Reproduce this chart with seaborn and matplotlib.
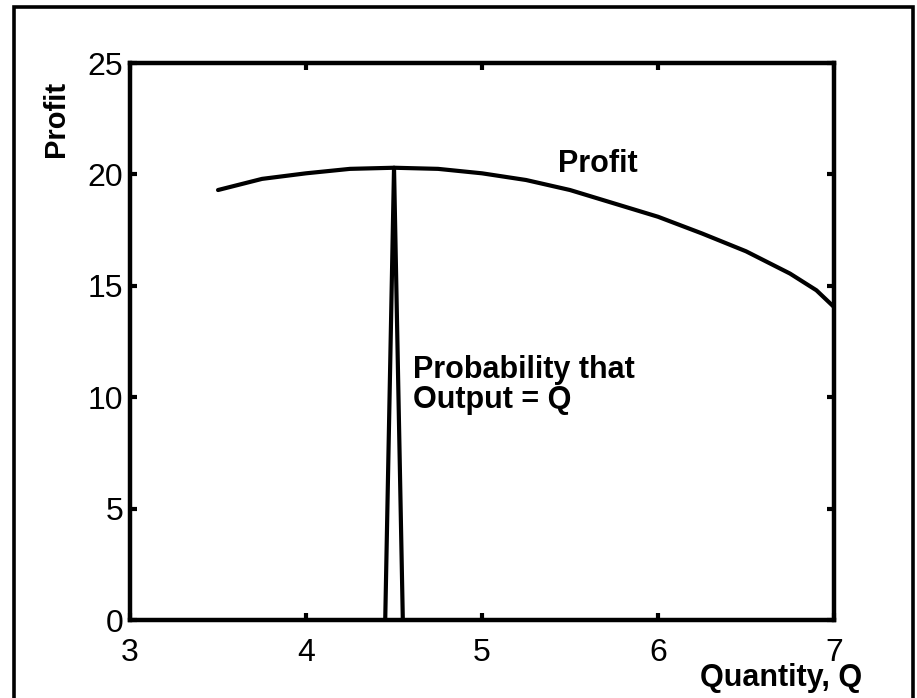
import matplotlib
matplotlib.use("Agg")
import matplotlib.pyplot as plt
from matplotlib.patches import Rectangle
import seaborn as sns
import pandas as pd

# Expected profit as a function of planned quantity
quantity = [3.5, 3.75, 4.0, 4.25, 4.5, 4.75, 5.0, 5.25, 5.5, 5.75, 6.0, 6.25, 6.5, 6.75, 6.9, 7.0]
profit = [19.3, 19.8, 20.05, 20.25, 20.3, 20.25, 20.05, 19.75, 19.3, 18.7, 18.1, 17.35, 16.55, 15.55, 14.8, 14.05]

# Probability mass concentrated at Q = 4.5 (scaled to profit units)
spike_q = [4.45, 4.5, 4.55]
spike_height = [0.0, 20.3, 0.0]

x_ticks = [3, 4, 5, 6, 7]
y_ticks = [0, 5, 10, 15, 20, 25]

sns.set_style("ticks")
plt.rcParams["font.family"] = ["Liberation Sans", "DejaVu Sans"]
plt.rcParams["text.color"] = "black"
plt.rcParams["axes.labelcolor"] = "black"
plt.rcParams["xtick.color"] = "black"
plt.rcParams["ytick.color"] = "black"

fig = plt.figure(figsize=(9.17, 6.98), dpi=100)
ax = fig.add_axes([0.1418, 0.1117, 0.7677, 0.798])

curve = pd.DataFrame({"Q": quantity, "Profit": profit})
spike = pd.DataFrame({"Q": spike_q, "P": spike_height})

sns.lineplot(data=curve, x="Q", y="Profit", ax=ax, color="black", lw=3.0, sort=False)
sns.lineplot(data=spike, x="Q", y="P", ax=ax, color="black", lw=3.0, sort=False)

ax.set_xlim(3, 7)
ax.set_ylim(0, 25)
ax.set_xticks(x_ticks)
ax.set_yticks(y_ticks)
ax.set_xticklabels([str(t) for t in x_ticks])
ax.set_yticklabels([str(t) for t in y_ticks])

for side in ["left", "right", "top", "bottom"]:
    ax.spines[side].set_visible(True)
    ax.spines[side].set_linewidth(3.2)
    ax.spines[side].set_color("black")

ax.tick_params(axis="both", which="major", direction="in", length=5, width=3,
               top=True, right=True, labelsize=23, colors="black")
ax.tick_params(axis="x", pad=13)
ax.tick_params(axis="y", pad=5)

ax.set_xlabel("Quantity, Q", fontsize=22, fontweight="bold", va="center", ha="center")
ax.xaxis.set_label_coords(0.925, -0.104)
ax.set_ylabel("Profit", fontsize=21, fontweight="bold", va="center", ha="center")
ax.yaxis.set_label_coords(-0.105, 0.9)

ax.text(5.43, 20.45, "Profit", fontsize=22, fontweight="bold", ha="left", va="center")
ax.text(4.61, 10.55, "Probability that\nOutput = Q", fontsize=22, fontweight="bold",
        ha="left", va="center", linespacing=1.0)

# Frame around the whole figure
fig.patches.append(Rectangle((0.0158, -0.02), 0.98, 1.0093, transform=fig.transFigure,
                             fill=False, edgecolor="black", linewidth=2.6))

fig.savefig("out.png", dpi=100, facecolor="white")
